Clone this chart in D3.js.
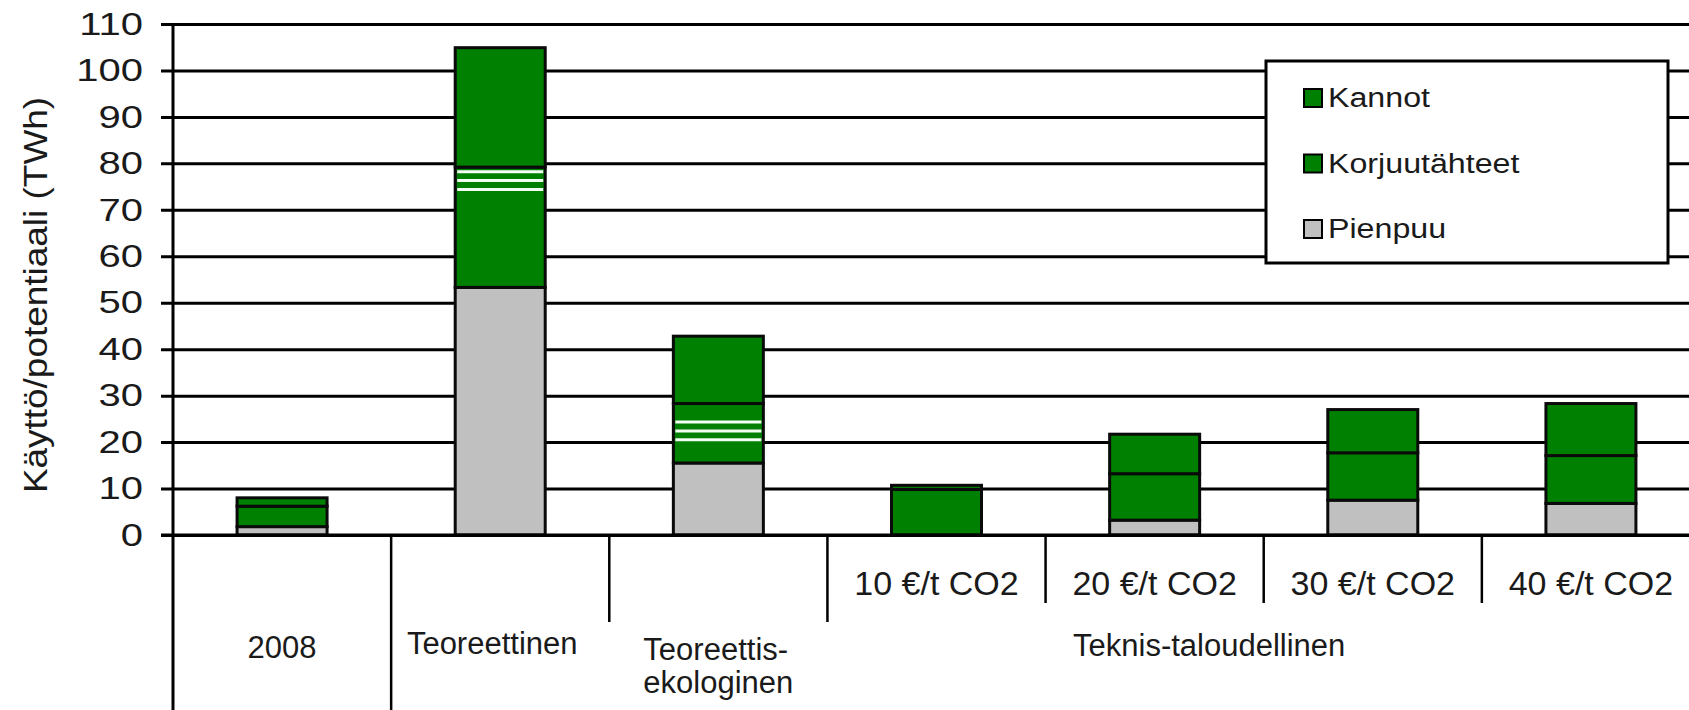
<!DOCTYPE html>
<html>
<head>
<meta charset="utf-8">
<script src="https://cdn.jsdelivr.net/npm/d3@7"></script>
<style>
  body { margin: 0; background: #fff; overflow: hidden; }
  svg { display: block; font-family: "Liberation Sans", Arial, sans-serif; }
</style>
</head>
<body>
<div id="chart"></div>
<script>
/* global d3 */

const categories = ['2008', 'Teoreettinen', 'Teoreettis-ekologinen', '10 €/t CO2', '20 €/t CO2', '30 €/t CO2', '40 €/t CO2']
const pienpuu = [1.8, 53.3, 15.5, 0, 3.2, 7.5, 6.8]
const korjuutahteet = [4.4, 25.9, 12.8, 9.8, 10.0, 10.2, 10.3]
const kannot = [1.8, 25.7, 14.5, 0.9, 8.5, 9.3, 11.2]
// white separator lines inside the Korjuutähteet segment
const stripes = [[], [78.2, 76.3, 74.4], [24.3, 22.4, 20.5], [], [], [], []]

const seriesNames = ['Pienpuu', 'Korjuutähteet', 'Kannot']
const legendOrder = ['Kannot', 'Korjuutähteet', 'Pienpuu']
const yTicks = [0, 10, 20, 30, 40, 50, 60, 70, 80, 90, 100, 110]
const priceLabels = ['', '', '', '10 €/t CO2', '20 €/t CO2', '30 €/t CO2', '40 €/t CO2']
const groupNames = ['2008', 'Teoreettinen', 'Teoreettis-|ekologinen', 'Teknis-taloudellinen']
const yTitle = 'Käyttö/potentiaali (TWh)'

const W = 1689
const H = 710
const left = 173
const barW = 90

const svg = d3.select('#chart').append('svg')
  .attr('width', W)
  .attr('height', H)

const x = d3.scaleBand().domain(categories).range([left, 1700])
const y = d3.scaleLinear().domain([0, 110]).range([535, 24])
const bw = x.bandwidth()

const color = d3.scaleOrdinal()
  .domain(seriesNames)
  .range(['#c0c0c0', '#008000', '#008000'])

const rows = categories.map((c, i) => ({
  cat: c,
  Pienpuu: pienpuu[i],
  Korjuutähteet: korjuutahteet[i],
  Kannot: kannot[i]
}))
const stacked = d3.stack().keys(seriesNames)(rows)

// y axis with gridlines
const yAxis = d3.axisLeft(y)
  .tickValues(yTicks)
  .tickSize(12)
  .tickPadding(18)

const gy = svg.append('g')
  .attr('transform', `translate(${left},0)`)
  .call(yAxis)
gy.select('.domain').remove()
gy.selectAll('.tick line')
  .attr('x1', -12)
  .attr('x2', W - left)
  .attr('stroke', '#000')
  .attr('stroke-width', 3)
gy.selectAll('.tick text')
  .attr('x', 0)
  .attr('transform', 'translate(-30,0) scale(1.25,1)')
  .attr('fill', '#1a1a1a')
  .style('font-size', '32px')
  .style('font-family', '"Liberation Sans", Arial, sans-serif')

svg.append('text')
  .attr('transform', 'translate(47,295) rotate(-90) scale(1.12,1)')
  .attr('text-anchor', 'middle')
  .attr('fill', '#1a1a1a')
  .style('font-size', '33px')
  .text(yTitle)

// stacked bars
const bars = svg.append('g')
bars.selectAll('g')
  .data(stacked)
  .join('g')
  .attr('fill', d => color(d.key))
  .selectAll('rect')
  .data(d => d.filter(s => s[1] - s[0] > 0))
  .join('rect')
  .attr('x', d => x(d.data.cat) + (bw - barW) / 2)
  .attr('y', d => y(d[1]))
  .attr('width', barW)
  .attr('height', d => y(d[0]) - y(d[1]))
  .attr('stroke', '#0a0a0a')
  .attr('stroke-width', 3)

const stripeData = []
stripes.forEach((vals, i) => vals.forEach(v => stripeData.push({ cat: categories[i], v })))
bars.append('g')
  .selectAll('line')
  .data(stripeData)
  .join('line')
  .attr('x1', d => x(d.cat) + (bw - barW) / 2 + 2)
  .attr('x2', d => x(d.cat) + (bw + barW) / 2 - 2)
  .attr('y1', d => y(d.v))
  .attr('y2', d => y(d.v))
  .attr('stroke', '#f4fff4')
  .attr('stroke-width', 3)

// category table lines
const table = svg.append('g').attr('stroke', '#000').attr('stroke-width', 3)
table.append('line')
  .attr('x1', left).attr('x2', left)
  .attr('y1', y(110) - 1).attr('y2', H)
table.append('line')
  .attr('x1', W).attr('x2', left - 12)
  .attr('y1', y(0)).attr('y2', y(0))
categories.slice(1).forEach((c, i) => {
  const idx = i + 1
  const bottom = idx === 1 ? H : (idx <= 3 ? 622 : 603)
  table.append('line')
    .attr('x1', x(c)).attr('x2', x(c))
    .attr('y1', y(0)).attr('y2', bottom)
    .attr('stroke-width', 2.5)
})

// category labels
const labels = svg.append('g').attr('fill', '#1a1a1a')
labels.selectAll('text.price')
  .data(categories.filter((c, i) => priceLabels[i]))
  .join('text')
  .attr('class', 'price')
  .attr('x', d => x(d) + bw / 2)
  .attr('y', 595)
  .attr('text-anchor', 'middle')
  .style('font-size', '34px')
  .text(d => priceLabels[categories.indexOf(d)])

labels.append('text')
  .attr('x', x(categories[0]) + bw / 2)
  .attr('y', 658)
  .attr('text-anchor', 'middle')
  .style('font-size', '31px')
  .text(groupNames[0])

labels.append('text')
  .attr('x', x(categories[1]) + bw / 2 - 8)
  .attr('y', 654)
  .attr('text-anchor', 'middle')
  .style('font-size', '31px')
  .text(groupNames[1])

const twoLine = labels.append('text')
  .style('font-size', '31px')
twoLine.selectAll('tspan')
  .data(groupNames[2].split('|'))
  .join('tspan')
  .attr('x', 0)
  .attr('y', (d, i) => 660 + i * 33)
  .text(d => d)
const tlw = twoLine.node().getBBox().width
twoLine.attr('transform', `translate(${x(categories[2]) + (bw - tlw) / 2},0)`)

labels.append('text')
  .attr('x', (x(categories[3]) + x(categories[6]) + bw / 2) / 2)
  .attr('y', 656)
  .attr('text-anchor', 'middle')
  .style('font-size', '31px')
  .text(groupNames[3])

// legend
const legend = svg.append('g')
legend.append('rect')
  .attr('x', 1266)
  .attr('y', 61)
  .attr('width', 402)
  .attr('height', 202)
  .attr('fill', '#fff')
  .attr('stroke', '#000')
  .attr('stroke-width', 3)

const item = legend.selectAll('g.item')
  .data(legendOrder)
  .join('g')
  .attr('class', 'item')
  .attr('transform', (d, i) => `translate(1304,${107 + i * 65.5})`)
item.append('rect')
  .attr('x', 0)
  .attr('y', -18)
  .attr('width', 18)
  .attr('height', 18)
  .attr('fill', d => color(d))
  .attr('stroke', '#000')
  .attr('stroke-width', 2)
item.append('text')
  .attr('transform', 'translate(24,0) scale(1.15,1)')
  .attr('fill', '#1a1a1a')
  .style('font-size', '28px')
  .text(d => d)
</script>
</body>
</html>
